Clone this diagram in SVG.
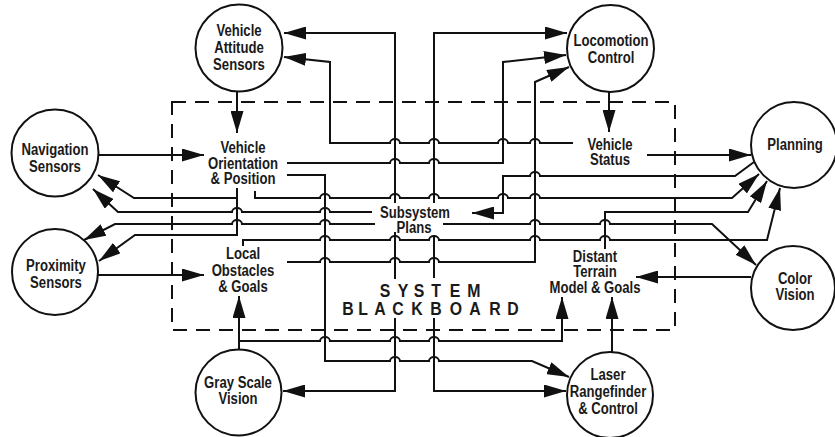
<svg xmlns="http://www.w3.org/2000/svg" width="835" height="437" viewBox="0 0 835 437">
<style>
.c{fill:#fff;stroke:#111;stroke-width:2}
.t{font-family:"Liberation Sans",Arial,sans-serif;font-weight:bold;font-size:16px;text-anchor:middle;fill:#1a1a1a}
.sb{font-family:"Liberation Sans",Arial,sans-serif;font-weight:bold;font-size:18px;text-anchor:middle;fill:#1a1a1a}
.w{fill:none;stroke:#111;stroke-width:2;stroke-linejoin:miter}
.a{marker-end:url(#ah)}
.bb{fill:none;stroke:#111;stroke-width:2;stroke-dasharray:14 9}
</style>
<defs>
<marker id="ah" markerUnits="userSpaceOnUse" markerWidth="22" markerHeight="13" refX="22" refY="6.5" orient="auto">
<path d="M0,0 L22,6.5 L0,13 z" fill="#111"/>
</marker>
</defs>
<rect width="835" height="437" fill="#fff"/>
<rect class="bb" x="172" y="102" width="503" height="228"/>
<g id="connectors">
<path class="w a" d="M237,92 L237,133"/>
<path class="w a" d="M609,92 L609,132"/>
<path class="w a" d="M99,155 L204,155"/>
<path class="w a" d="M98,275 L204,275"/>
<path class="w a" d="M647,155 L751,155"/>
<path class="w a" d="M751,277 L636,277"/>
<path class="w a" d="M612,352 L612,297"/>
<path class="w a" d="M239,349 L239,296"/>
<path class="w a" d="M239,341 L320,341 A5,4 0 0 1 330,341 L390,341 A5,4 0 0 1 400,341 L429,341 A5,4 0 0 1 439,341 L562,341 L562,297"/>
<path class="w a" d="M573,143 L540,143 A5,4 0 0 0 530,143 L508,143 A5,4 0 0 0 498,143 L439,143 A5,4 0 0 0 429,143 L400,143 A5,4 0 0 0 390,143 L330,143 L330,62 L284,57"/>
<path class="w a" d="M395,203 L395,33 L284,33"/>
<path class="w a" d="M434,203 L434,33 L567,33"/>
<path class="w a" d="M287,163 L390,163 A5,4 0 0 1 400,163 L429,163 A5,4 0 0 1 439,163 L503,163 L503,62 L566,55"/>
<path class="w a" d="M287,262 L320,262 A5,4 0 0 1 330,262 L390,262 A5,4 0 0 1 400,262 L429,262 A5,4 0 0 1 439,262 L535,262 L535,82 L569,67"/>
<path class="w a" d="M287,175 L325,175 L325,361 L390,361 A5,4 0 0 1 400,361 L429,361 A5,4 0 0 1 439,361 L532,361 L569,377"/>
<path class="w a" d="M255,191 L255,198 L320,198 A5,4 0 0 1 330,198 L390,198 A5,4 0 0 1 400,198 L429,198 A5,4 0 0 1 439,198 L498,198 A5,4 0 0 1 508,198 L530,198 A5,4 0 0 1 540,198 L732,198 L759,174"/>
<path class="w a" d="M754,162 L735,176 L540,176 A5,4 0 0 0 530,176 L503,176 L503,213 L472,213"/>
<path class="w a" d="M605,249 L605,212 L748,212 L767,181"/>
<path class="w a" d="M243,246 L243,240 L320,240 A5,4 0 0 1 330,240 L390,240 A5,4 0 0 1 400,240 L429,240 A5,4 0 0 1 439,240 L530,240 A5,4 0 0 1 540,240 L600,240 A5,4 0 0 1 610,240 L767,240 L780,188"/>
<path class="w a" d="M443,224 L530,224 A5,4 0 0 1 540,224 L600,224 A5,4 0 0 1 610,224 L712,224 L756,265"/>
<path class="w a" d="M372,212 L330,212 A5,4 0 0 0 320,212 L242,212 A5,4 0 0 0 232,212 L118,212 L93,189"/>
<path class="w a" d="M375,224 L330,224 A5,4 0 0 0 320,224 L242,224 A5,4 0 0 0 232,224 L115,224 L84,240"/>
<path class="w a" d="M237,188 L237,198 L134,198 L98,175"/>
<path class="w a" d="M237,198 L237,235 L135,235 L99,261"/>
<path class="w a" d="M395,232 L395,279 M395,318 L395,391 L283,391"/>
<path class="w a" d="M434,235 L434,278 M434,318 L434,391 L566,391"/>
</g>
<g id="vehicle-attitude-sensors">
<circle class="c" cx="239" cy="48" r="43.5"/>
<text class="t" transform="matrix(.82 0 0 1 239 36)">Vehicle</text>
<text class="t" transform="matrix(.82 0 0 1 239 53)">Attitude</text>
<text class="t" transform="matrix(.82 0 0 1 239 70)">Sensors</text>
</g>
<g id="locomotion-control">
<circle class="c" cx="610.5" cy="48.5" r="43.5"/>
<text class="t" transform="matrix(.82 0 0 1 611 46)">Locomotion</text>
<text class="t" transform="matrix(.82 0 0 1 611 63)">Control</text>
</g>
<g id="navigation-sensors">
<circle class="c" cx="55" cy="153" r="43.5"/>
<text class="t" transform="matrix(.82 0 0 1 55 155)">Navigation</text>
<text class="t" transform="matrix(.82 0 0 1 55 172)">Sensors</text>
</g>
<g id="proximity-sensors">
<circle class="c" cx="55" cy="272" r="43"/>
<text class="t" transform="matrix(.82 0 0 1 56 271)">Proximity</text>
<text class="t" transform="matrix(.82 0 0 1 56 288)">Sensors</text>
</g>
<g id="planning">
<circle class="c" cx="794" cy="145" r="43"/>
<text class="t" transform="matrix(.82 0 0 1 795 150)">Planning</text>
</g>
<g id="color-vision">
<circle class="c" cx="793" cy="288" r="42"/>
<text class="t" transform="matrix(.82 0 0 1 795 284)">Color</text>
<text class="t" transform="matrix(.82 0 0 1 795 300)">Vision</text>
</g>
<g id="gray-scale-vision">
<circle class="c" cx="238.5" cy="392.5" r="43"/>
<text class="t" transform="matrix(.82 0 0 1 238 388)">Gray Scale</text>
<text class="t" transform="matrix(.82 0 0 1 238 404)">Vision</text>
</g>
<g id="laser-rangefinder">
<circle class="c" cx="610" cy="395" r="43"/>
<text class="t" transform="matrix(.82 0 0 1 608 380)">Laser</text>
<text class="t" transform="matrix(.82 0 0 1 608 397)">Rangefinder</text>
<text class="t" transform="matrix(.82 0 0 1 608 414)">&amp; Control</text>
</g>
<g id="vehicle-orientation-position">
<text class="t" transform="matrix(.82 0 0 1 243 153)">Vehicle</text>
<text class="t" transform="matrix(.82 0 0 1 243 169)">Orientation</text>
<text class="t" transform="matrix(.82 0 0 1 243 184)">&amp; Position</text>
</g>
<g id="vehicle-status">
<text class="t" transform="matrix(.82 0 0 1 610 150)">Vehicle</text>
<text class="t" transform="matrix(.82 0 0 1 610 165)">Status</text>
</g>
<g id="subsystem-plans">
<text class="t" transform="matrix(.82 0 0 1 415 218)">Subsystem</text>
<text class="t" transform="matrix(.82 0 0 1 414 233)">Plans</text>
</g>
<g id="local-obstacles-goals">
<text class="t" transform="matrix(.82 0 0 1 243 259)">Local</text>
<text class="t" transform="matrix(.82 0 0 1 243 276)">Obstacles</text>
<text class="t" transform="matrix(.82 0 0 1 243 292)">&amp; Goals</text>
</g>
<g id="distant-terrain">
<text class="t" transform="matrix(.82 0 0 1 595 262)">Distant</text>
<text class="t" transform="matrix(.82 0 0 1 595 277)">Terrain</text>
<text class="t" transform="matrix(.82 0 0 1 595 293)">Model &amp; Goals</text>
</g>
<g id="system-blackboard">
<text class="sb" transform="matrix(.88 0 0 1 0 297)" x="437.5 458 476.1 495.5 517 538.6" y="0">SYSTEM</text>
<text class="sb" transform="matrix(.88 0 0 1 0 315)" x="395.5 412.5 431.8 452.3 473.9 495.5 518.2 539.8 562.5 583" y="0">BLACKBOARD</text>
</g>
</svg>
